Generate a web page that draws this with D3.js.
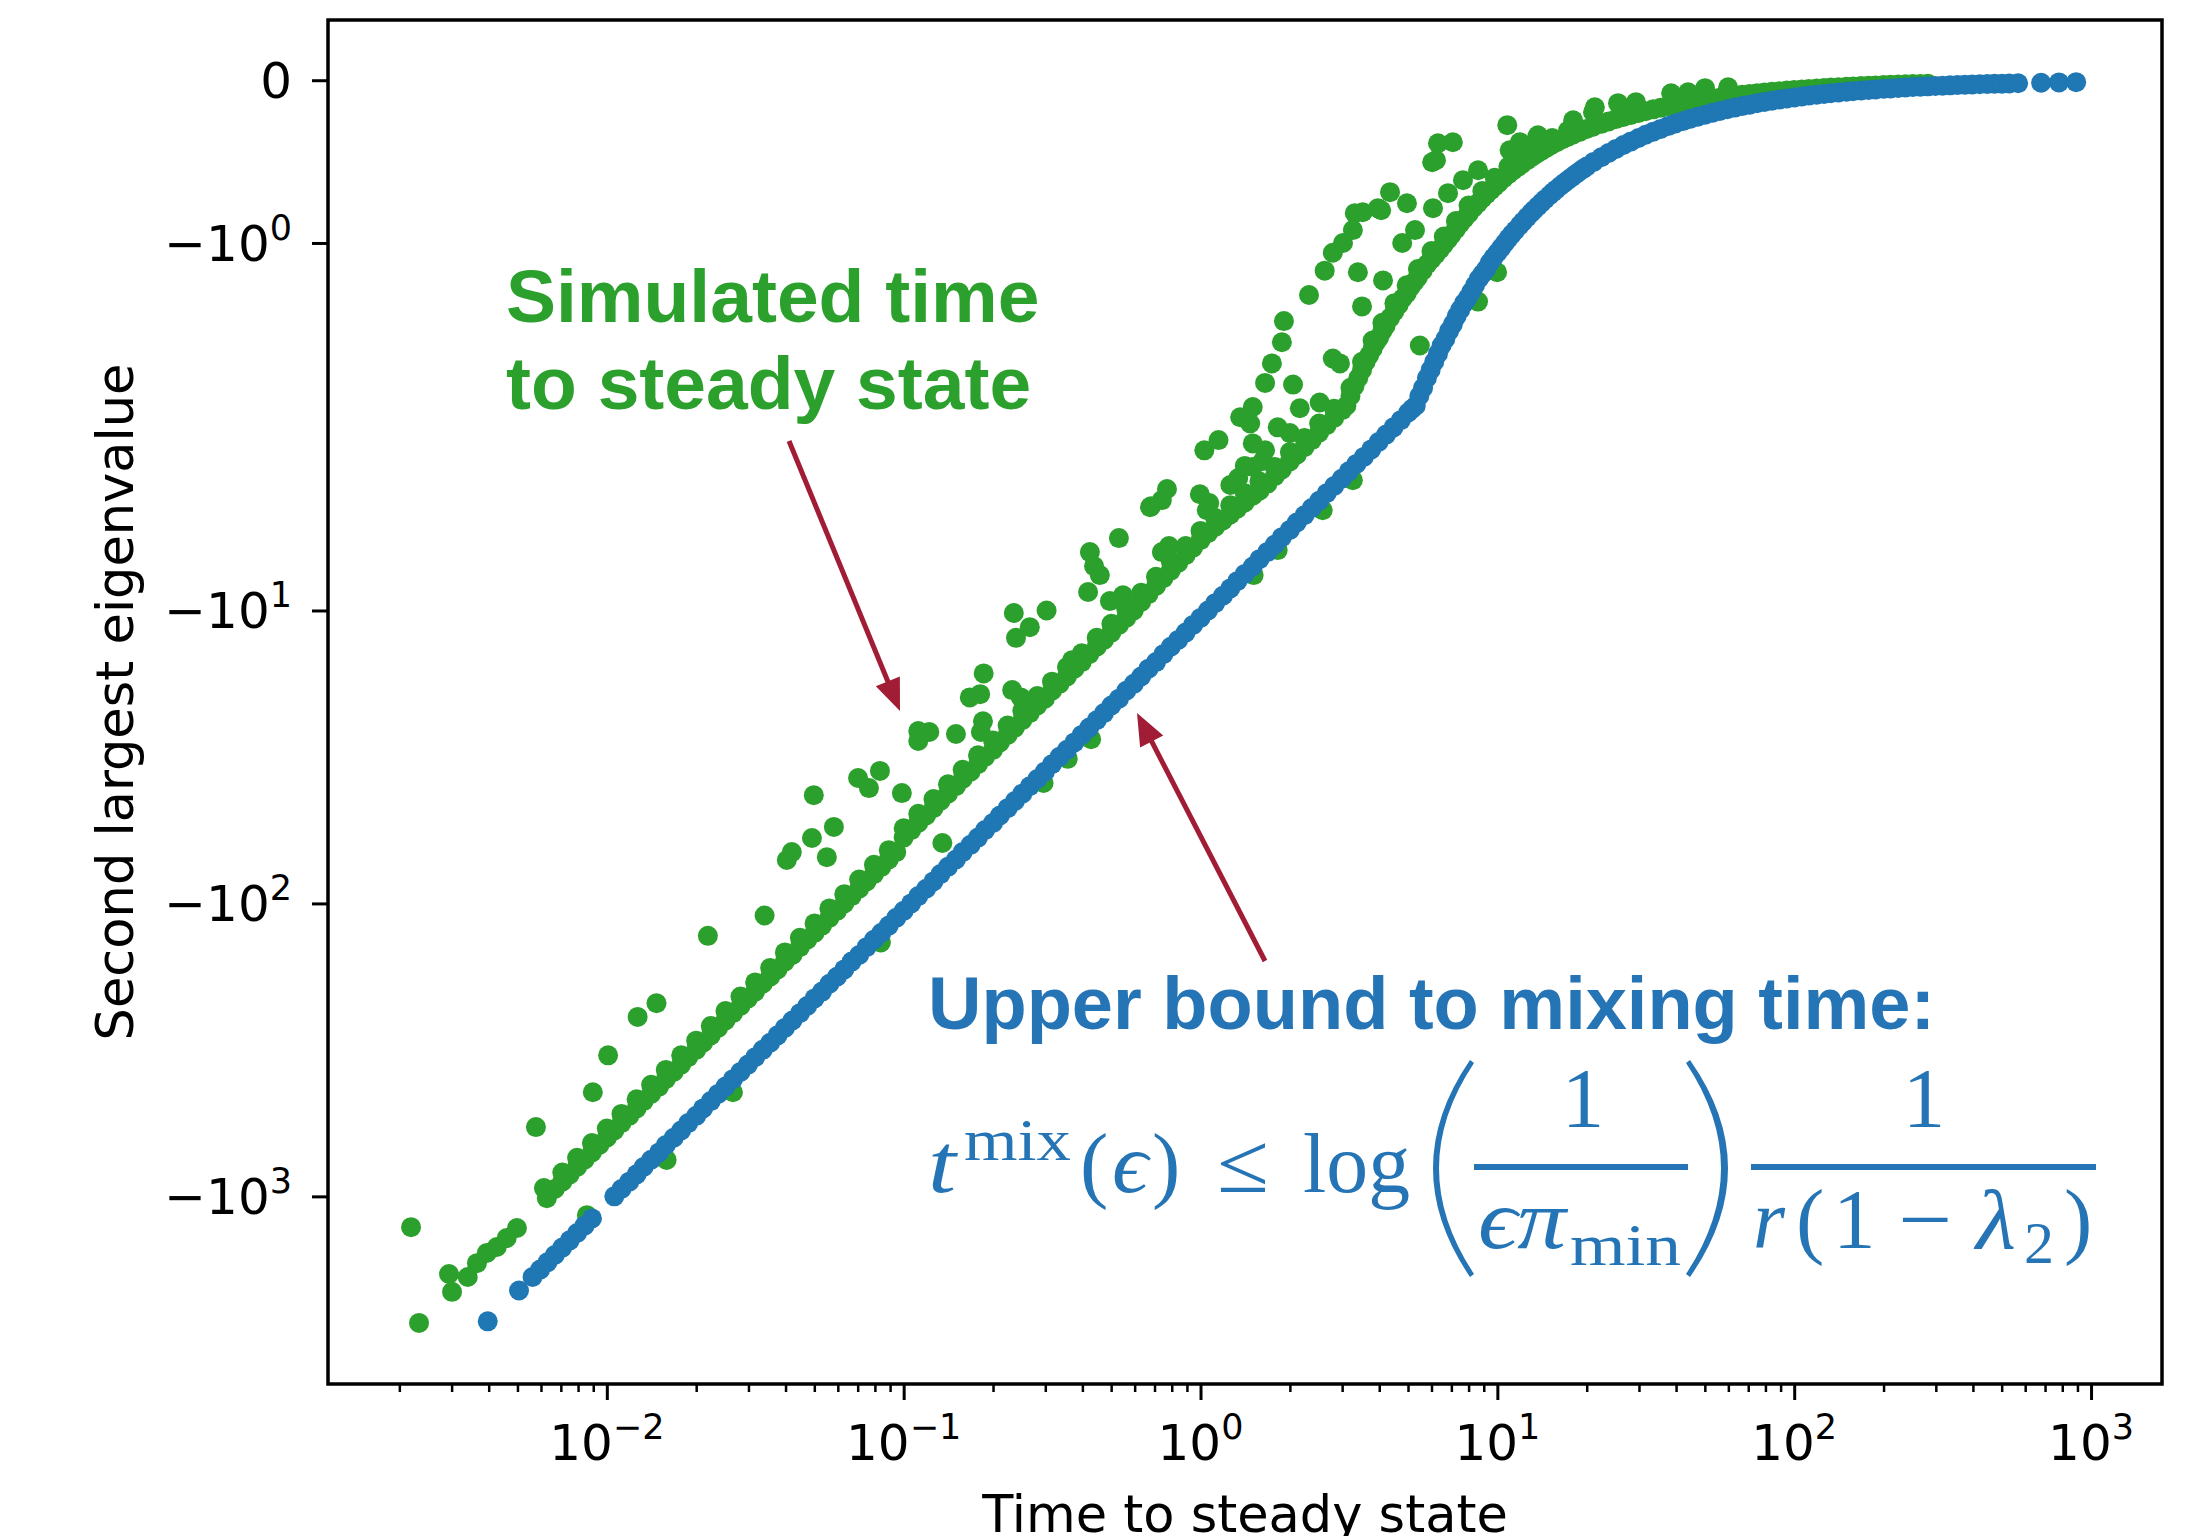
<!DOCTYPE html>
<html>
<head>
<meta charset="utf-8">
<script src="https://cdn.jsdelivr.net/npm/d3@7"></script>
<style>
  html, body { margin: 0; padding: 0; background: #fff; }
  svg { display: block; }
</style>
</head>
<body>
<div id="chart"></div>
<script>
// axis ticks
const xMajorTicks = [1e-2, 1e-1, 1e0, 1e1, 1e2, 1e3]
const xMinorTicks = [
    0.002, 0.003, 0.004, 0.005, 0.006, 0.007, 0.008, 0.009,
    0.02, 0.03, 0.04, 0.05, 0.06, 0.07, 0.08, 0.09,
    0.2, 0.3, 0.4, 0.5, 0.6, 0.7, 0.8, 0.9,
    2, 3, 4, 5, 6, 7, 8, 9,
    20, 30, 40, 50, 60, 70, 80, 90,
    200, 300, 400, 500, 600, 700, 800, 900
]
const yMajorTicks = [0, -1, -10, -100, -1000]

// upper bound (blue): [time to steady state, second largest eigenvalue]
const upperBound = [
    [0.00397, -2670], [0.00506, -2095],
    [0.00562, -1884], [0.00596, -1778], [0.00631, -1679], [0.00668, -1585], [0.00708, -1496], [0.0075, -1413], [0.00794, -1334], [0.00841, -1259], [0.00891, -1189],
    [0.0106, -1000], [0.0112, -944], [0.0119, -891], [0.0126, -841], [0.0133, -794], [0.0141, -750], [0.015, -708], [0.0158, -668], [0.0168, -631], [0.0178, -596],
    [0.0188, -562], [0.02, -531], [0.0211, -501], [0.0224, -473], [0.0237, -447], [0.0251, -422], [0.0266, -398], [0.0282, -376], [0.0299, -355], [0.0316, -335],
    [0.0335, -316], [0.0355, -299], [0.0376, -282], [0.0398, -266], [0.0422, -251], [0.0447, -237], [0.0473, -224], [0.0501, -211], [0.0531, -200], [0.0562, -188],
    [0.0596, -178], [0.0631, -168], [0.0668, -158], [0.0708, -150], [0.075, -141], [0.0794, -133], [0.0841, -126], [0.0891, -119], [0.0944, -112],
    [0.1, -106], [0.106, -100], [0.112, -94.4], [0.119, -89.1], [0.126, -84.1], [0.133, -79.4], [0.141, -75], [0.15, -70.8], [0.158, -66.8], [0.168, -63.1],
    [0.178, -59.6], [0.188, -56.2], [0.2, -53.1], [0.211, -50.1], [0.224, -47.3], [0.237, -44.7], [0.251, -42.2], [0.266, -39.8], [0.282, -37.6], [0.299, -35.5],
    [0.316, -33.5], [0.335, -31.6], [0.355, -29.9], [0.376, -28.2], [0.398, -26.6], [0.422, -25.1], [0.447, -23.7], [0.473, -22.4], [0.501, -21.1], [0.531, -20],
    [0.562, -18.8], [0.596, -17.8], [0.631, -16.8], [0.668, -15.8], [0.708, -15], [0.75, -14.1], [0.794, -13.3], [0.841, -12.6], [0.891, -11.9], [0.944, -11.2],
    [1, -10.6], [1.06, -10], [1.12, -9.44], [1.19, -8.91], [1.26, -8.41], [1.33, -7.94], [1.41, -7.5], [1.5, -7.08], [1.58, -6.68], [1.68, -6.31],
    [1.78, -5.96], [1.88, -5.62], [2, -5.31], [2.11, -5.01], [2.24, -4.73], [2.37, -4.47], [2.51, -4.22], [2.66, -3.98], [2.82, -3.76], [2.99, -3.55],
    [3.16, -3.35], [3.35, -3.16], [3.55, -2.99], [3.76, -2.82], [3.98, -2.66], [4.22, -2.51], [4.47, -2.37], [4.73, -2.24], [5.01, -2.11],
    [5.16, -2.05], [5.31, -2], [5.46, -1.94], [5.62, -1.89], [5.79, -1.83], [5.96, -1.78], [6.13, -1.73], [6.31, -1.68], [6.49, -1.63], [6.68, -1.59],
    [6.88, -1.54], [7.08, -1.5], [7.29, -1.45], [7.5, -1.41], [7.72, -1.37], [7.94, -1.34], [8.17, -1.3], [8.41, -1.26], [8.66, -1.22], [8.91, -1.19],
    [9.17, -1.16], [9.44, -1.12], [9.71, -1.09], [10, -1.06], [10.3, -1.03], [10.6, -1], [10.9, -0.972], [11.2, -0.946], [11.5, -0.922], [11.9, -0.891],
    [12.2, -0.869], [12.6, -0.841], [13, -0.815], [13.3, -0.797], [13.7, -0.774], [14.1, -0.752], [14.5, -0.731], [15, -0.707], [15.4, -0.688], [15.8, -0.671],
    [16.3, -0.65], [16.8, -0.631], [17.3, -0.613], [17.8, -0.596], [18.3, -0.579], [18.8, -0.564], [19.4, -0.546], [20, -0.53],
    [21.1, -0.502], [22.4, -0.473], [23.7, -0.447], [25.1, -0.422], [26.6, -0.398], [28.2, -0.376], [29.9, -0.355], [31.6, -0.335], [33.5, -0.316], [35.5, -0.299],
    [37.6, -0.282], [39.8, -0.266], [42.2, -0.251], [44.7, -0.237], [47.3, -0.224], [50.1, -0.212], [53.1, -0.2], [56.2, -0.189], [59.6, -0.178], [63.1, -0.168],
    [66.8, -0.159], [70.8, -0.15], [75, -0.141], [79.4, -0.134], [84.1, -0.126], [89.1, -0.119], [94.4, -0.112], [100, -0.106], [106, -0.1], [112, -0.0946],
    [119, -0.0891], [126, -0.0841], [133, -0.0797], [141, -0.0752], [150, -0.0707], [158, -0.0671], [168, -0.0631], [178, -0.0596], [188, -0.0564], [200, -0.053],
    [211, -0.0502], [224, -0.0473], [237, -0.0447], [251, -0.0422], [266, -0.0398], [282, -0.0376], [299, -0.0355], [316, -0.0335], [335, -0.0316], [355, -0.0299],
    [376, -0.0282], [398, -0.0266], [422, -0.0251], [447, -0.0237], [473, -0.0224], [501, -0.0212], [530, -0.02], [568, -0.0187],
    [679, -0.0156], [780, -0.0136], [891, -0.0119]
]

// simulated (green), the dense band
const simulatedBand = [
    [0.00668, -944], [0.00708, -891], [0.0075, -841], [0.00794, -794], [0.00841, -750], [0.00891, -708], [0.00944, -668],
    [0.01, -631], [0.0106, -596], [0.0112, -562], [0.0119, -531], [0.0126, -501], [0.0133, -473], [0.0141, -447], [0.015, -422], [0.0158, -398], [0.0168, -376],
    [0.0178, -355], [0.0188, -335], [0.02, -316], [0.0211, -299], [0.0224, -282], [0.0237, -266], [0.0251, -251], [0.0266, -237], [0.0282, -224], [0.0299, -211],
    [0.0316, -200], [0.0335, -188], [0.0355, -178], [0.0376, -168], [0.0398, -158], [0.0422, -150], [0.0447, -141], [0.0473, -133], [0.0501, -126], [0.0531, -119],
    [0.0562, -112], [0.0596, -106], [0.0631, -100], [0.0668, -94.4], [0.0708, -89.1], [0.075, -84.1], [0.0794, -79.4], [0.0841, -75], [0.0891, -70.8], [0.0944, -66.8],
    [0.1, -59.6], [0.106, -56.2], [0.112, -53.1], [0.119, -50.1], [0.126, -47.3], [0.133, -44.7], [0.141, -42.2], [0.15, -39.8], [0.158, -37.6], [0.168, -35.5],
    [0.178, -33.5], [0.188, -31.6], [0.2, -29.9], [0.211, -28.2], [0.224, -26.6], [0.237, -25.1], [0.251, -23.7], [0.266, -22.4], [0.282, -21.1], [0.299, -20],
    [0.316, -18.8], [0.335, -17.8], [0.355, -16.8], [0.376, -15.8], [0.398, -15], [0.422, -14.1], [0.447, -13.3], [0.473, -12.6], [0.501, -11.9], [0.531, -11.2],
    [0.562, -10.6], [0.596, -10], [0.631, -9.35], [0.668, -8.79], [0.708, -8.25], [0.75, -7.76], [0.794, -7.31], [0.841, -6.88], [0.891, -6.48], [0.944, -6.1],
    [1, -5.75], [1.06, -5.45], [1.12, -5.19], [1.19, -4.93], [1.26, -4.7], [1.33, -4.49], [1.41, -4.28], [1.5, -4.06], [1.58, -3.9], [1.68, -3.69],
    [1.78, -3.48], [1.88, -3.3], [2, -3.1], [2.11, -2.94], [2.24, -2.77], [2.37, -2.62], [2.51, -2.47], [2.66, -2.33], [2.82, -2.2],
    [3, -2.07], [3.1, -2], [3.2, -1.94], [3.3, -1.88], [3.4, -1.83], [3.5, -1.78], [3.6, -1.73], [3.7, -1.69], [3.8, -1.65], [3.9, -1.61],
    [4, -1.58], [4.1, -1.54], [4.2, -1.51], [4.35, -1.46], [4.5, -1.42], [4.65, -1.38], [4.8, -1.34], [4.95, -1.31], [5.1, -1.27], [5.25, -1.24],
    [5.4, -1.21], [5.6, -1.17], [5.8, -1.13], [6, -1.1], [6.2, -1.07], [6.4, -1.04], [6.6, -1.01], [6.8, -0.98], [7, -0.95], [7.25, -0.915],
    [7.5, -0.88], [7.75, -0.85], [8, -0.82], [8.3, -0.785], [8.6, -0.755], [8.9, -0.727], [9.2, -0.7], [9.5, -0.675], [9.8, -0.652], [10.1, -0.631],
    [10.5, -0.602], [10.9, -0.578], [11.3, -0.555], [11.7, -0.534], [12.1, -0.514], [12.6, -0.492], [13.1, -0.47], [13.6, -0.45], [14.1, -0.433], [14.7, -0.413],
    [15.3, -0.395], [15.9, -0.379], [16.6, -0.362], [17.3, -0.347], [18, -0.333], [19, -0.316], [20, -0.3], [21, -0.286], [22.4, -0.268], [23.7, -0.253],
    [25.1, -0.239], [26.6, -0.226], [28.2, -0.213], [29.9, -0.201], [31.6, -0.19], [33.5, -0.179], [35.5, -0.169], [37.6, -0.16], [39.8, -0.151], [42.2, -0.142],
    [44.7, -0.134], [47.3, -0.127], [50.1, -0.12], [53.1, -0.113], [56.2, -0.107], [59.6, -0.101], [63.1, -0.0951], [66.8, -0.0898], [70.8, -0.0847], [75, -0.08],
    [79.4, -0.0756], [84.1, -0.0713], [89.1, -0.0673], [94.4, -0.0636], [100, -0.06], [106, -0.0566], [112, -0.0536], [119, -0.0504], [126, -0.0476], [133, -0.0451],
    [141, -0.0426], [150, -0.04], [158, -0.038], [168, -0.0357], [178, -0.0337], [188, -0.0319], [200, -0.03], [211, -0.0284], [224, -0.0268], [237, -0.0253],
    [251, -0.0239], [266, -0.0226], [282, -0.0213]
]

// simulated (green), points riding just above the band, which make it look thick
const simulatedBandUpper = [
    [0.00708, -829], [0.00794, -738], [0.00891, -658], [0.01, -587], [0.0112, -523], [0.0126, -466], [0.0141, -416], [0.0158, -370],
    [0.0178, -330], [0.02, -294], [0.0224, -262], [0.0251, -233], [0.0282, -208], [0.0316, -186], [0.0355, -166], [0.0398, -147],
    [0.0447, -131], [0.0501, -117], [0.0562, -104], [0.0631, -93], [0.0708, -82.9], [0.0794, -73.8], [0.0891, -65.8],
    [0.1, -55.4], [0.112, -49.4], [0.126, -44], [0.141, -39.2], [0.158, -35], [0.178, -31.2], [0.2, -27.8], [0.224, -24.7],
    [0.251, -22], [0.282, -19.6], [0.316, -17.5], [0.355, -15.6], [0.398, -14], [0.447, -12.4], [0.501, -11.1], [0.562, -9.86],
    [0.631, -8.7], [0.708, -7.67], [0.794, -6.8], [0.891, -6.03], [1, -5.35], [1.12, -4.83], [1.26, -4.37], [1.41, -3.98],
    [1.58, -3.63], [1.78, -3.24], [2, -2.88], [2.24, -2.58], [2.51, -2.3], [2.82, -2.05],
    [3.2, -1.89], [3.5, -1.73], [3.8, -1.6], [4.1, -1.49], [4.5, -1.37], [4.95, -1.26], [5.4, -1.16], [6, -1.05],
    [6.6, -0.96], [7.25, -0.865], [8, -0.77], [8.9, -0.68], [9.8, -0.6], [10.9, -0.53], [12.1, -0.47], [13.6, -0.41],
    [15.3, -0.355], [17.3, -0.31]
]

// simulated (green), the points that scatter off the band
const simulatedScatter = [
    [0.00219, -1274], [0.00233, -2704], [0.00294, -1841], [0.00301, -2118], [0.0034, -1884], [0.00365, -1690], [0.00394, -1560], [0.00426, -1489],
    [0.0046, -1387], [0.00498, -1282], [0.00577, -580], [0.00614, -937], [0.00628, -1014], [0.00897, -441], [0.0101, -330], [0.0127, -244],
    [0.0147, -219], [0.00857, -1159], [0.0159, -751], [0.0266, -441],
    [0.0219, -129], [0.034, -110], [0.0404, -71.1], [0.042, -66.8], [0.0498, -42.7], [0.0491, -59.8], [0.0582, -54.8], [0.0551, -69.5],
    [0.0702, -37.3], [0.0764, -40.4], [0.0832, -35.3], [0.0986, -42], [0.112, -25.8], [0.122, -26], [0.112, -27.9], [0.15, -26.4],
    [0.135, -62.2], [0.0838, -136], [0.186, -16.4], [0.167, -19.8], [0.181, -19.3], [0.185, -23.9], [0.182, -26], [0.232, -18.7],
    [0.248, -19.8], [0.235, -10.2], [0.266, -11.4], [0.303, -10], [0.239, -12.4], [0.369, -14.8], [0.424, -6.32], [0.438, -7.06],
    [0.458, -7.57], [0.418, -8.65], [0.531, -5.66], [0.495, -9.29], [0.548, -8.87], [0.681, -4.41], [0.771, -3.85], [0.741, -6.32],
    [0.783, -6.03], [0.995, -4.01], [1.07, -4.3], [1.26, -3.73], [1.34, -3.53], [1.03, -2.84], [1.41, -3.21], [1.62, -3.09],
    [0.428, -27.5], [0.357, -32.1], [0.296, -38.8], [1.82, -6.22], [1.51, -7.57], [2.58, -4.55], [3.26, -3.59],
    [0.676, -4.44], [0.741, -4.2], [1.05, -4.55], [1.15, -2.62], [1.36, -2.19], [1.5, -2.02], [1.47, -2.3], [1.5, -2.69],
    [1.65, -2.84], [1.82, -2.37], [2, -2.48], [1.5, -3.24], [2.05, -1.87], [2.16, -2.04], [2.52, -1.98], [1.65, -1.86],
    [1.74, -1.74], [1.88, -1.61], [1.91, -1.48], [2.32, -1.32], [2.62, -1.17], [2.79, -1.06], [3.02, -1], [3.26, -0.921],
    [3.52, -0.811], [3.96, -0.786], [4.35, -0.688], [3.39, -1.18], [3.5, -1.39], [2.79, -1.71], [2.95, -1.74], [4.12, -1.23],
    [4.78, -1], [5.28, -0.921], [4.96, -0.756], [6.03, -0.504], [6.31, -0.387], [7.08, -0.381], [6.07, -0.786], [6.82, -0.694],
    [7.66, -0.614], [8.61, -0.553], [10.8, -0.276], [11, -0.43], [11.9, -0.381], [13.7, -0.338], [18, -0.246], [21, -0.197],
    [5.48, -1.63], [8.61, -1.36], [9.98, -1.18],
    [3.31, -0.817], [4.06, -0.799], [6.21, -0.491], [13.6, -0.35], [21.3, -0.166], [25.5, -0.141], [29.3, -0.135], [38.5, -0.08],
    [43.9, -0.074], [50.1, -0.049], [59.9, -0.043]
]

const blueColor = '#1f77b4'
const greenColor = '#2ca02c'
const textBlue = '#2574b5'
const arrowColor = '#a11c35'

const width = 2208
const height = 1536

// room around the axes box for the tick labels and axis titles
const margin = { top: 20, right: 46, bottom: 152, left: 328 }
const innerWidth = width - margin.left - margin.right
const innerHeight = height - margin.top - margin.bottom

// symmetric log like matplotlib's symlog (linthresh 2, linscale 1)
const linthresh = 2
const linscaleAdj = 1 / (1 - 1 / 10)
const symlog = v => {
    const a = Math.abs(v)
    const s = Math.sign(v)
    if (a <= linthresh) return s * a * linscaleAdj / linthresh
    return s * (linscaleAdj + Math.log10(a / linthresh))
}

const xScale = d3.scaleLog()
    .domain([1.15e-3, 1734])
    .range([0, innerWidth])

const yLin = d3.scaleLinear()
    .domain([symlog(0.37), symlog(-4370)])
    .range([0, innerHeight])

const yScale = v => yLin(symlog(v))

const svg = d3.select('#chart')
    .append('svg')
        .attr('width', width)
        .attr('height', height)

const g = svg.append('g')
    .attr('transform', `translate(${margin.left}, ${margin.top})`)

// green first, blue sits on top of it
g.append('g').selectAll('circle')
    .data(simulatedBand.concat(simulatedBandUpper, simulatedScatter))
    .enter()
    .append('circle')
        .attr('cx', d => xScale(d[0]))
        .attr('cy', d => yScale(d[1]))
        .attr('r', 10)
        .attr('fill', greenColor)

g.append('g').selectAll('circle')
    .data(upperBound)
    .enter()
    .append('circle')
        .attr('cx', d => xScale(d[0]))
        .attr('cy', d => yScale(d[1]))
        .attr('r', 10)
        .attr('fill', blueColor)

// axes
const sup = n => (n < 0 ? '\u2212' : '') + Math.abs(n)

const xMinorG = g.append('g')
    .attr('transform', `translate(0, ${innerHeight})`)
    .call(d3.axisBottom(xScale).tickValues(xMinorTicks).tickSize(8).tickFormat(''))
xMinorG.select('.domain').remove()
xMinorG.selectAll('line').attr('stroke', '#000').attr('stroke-width', 2.5)

const xMajorG = g.append('g')
    .attr('transform', `translate(0, ${innerHeight})`)
    .call(d3.axisBottom(xScale).tickValues(xMajorTicks).tickSize(16).tickFormat(''))
xMajorG.select('.domain').remove()
xMajorG.selectAll('line').attr('stroke', '#000').attr('stroke-width', 3)

const yMajorG = g.append('g')
    .call(d3.axisLeft(yLin).tickValues(yMajorTicks.map(symlog)).tickSize(16).tickFormat(''))
yMajorG.select('.domain').remove()
yMajorG.selectAll('line').attr('stroke', '#000').attr('stroke-width', 3)

const xLabels = g.append('g').selectAll('text')
    .data(xMajorTicks)
    .enter()
    .append('text')
        .attr('x', d => xScale(d))
        .attr('y', innerHeight + 76)
        .attr('text-anchor', 'middle')
        .style('font-family', '"DejaVu Sans", sans-serif')
        .style('font-size', '50px')
xLabels.append('tspan').text('10')
xLabels.append('tspan')
    .attr('dy', -21)
    .style('font-size', '35px')
    .text(d => sup(Math.round(Math.log10(d))))

const yLabels = g.append('g').selectAll('text')
    .data(yMajorTicks)
    .enter()
    .append('text')
        .attr('x', -36)
        .attr('y', d => yScale(d) + 18)
        .attr('text-anchor', 'end')
        .style('font-family', '"DejaVu Sans", sans-serif')
        .style('font-size', '50px')
yLabels.append('tspan').text(d => d === 0 ? '0' : '\u221210')
yLabels.filter(d => d !== 0).append('tspan')
    .attr('dy', -21)
    .style('font-size', '35px')
    .text(d => sup(Math.round(Math.log10(-d))))

// frame
g.append('rect')
    .attr('width', innerWidth)
    .attr('height', innerHeight)
    .attr('fill', 'none')
    .attr('stroke', '#000')
    .attr('stroke-width', 3.5)

// axis titles
svg.append('text')
    .attr('x', margin.left + 917)
    .attr('y', 1532)
    .attr('text-anchor', 'middle')
    .style('font-family', '"DejaVu Sans", sans-serif')
    .style('font-size', '51px')
    .text('Time to steady state')

svg.append('text')
    .attr('transform', `translate(133, ${margin.top + innerHeight / 2}) rotate(-90)`)
    .attr('text-anchor', 'middle')
    .style('font-family', '"DejaVu Sans", sans-serif')
    .style('font-size', '51px')
    .text('Second largest eigenvalue')

// annotations (page coordinates)
const boldText = (txt, x, y, color) => svg.append('text')
    .attr('x', x)
    .attr('y', y)
    .attr('fill', color)
    .style('font-family', '"Liberation Sans", Arial, sans-serif')
    .style('font-weight', 'bold')
    .style('font-size', '75px')
    .text(txt)

boldText('Simulated time', 506, 322, greenColor)
boldText('to steady state', 506, 409, greenColor)
boldText('Upper bound to mixing time:', 928, 1029, textBlue).style('font-size', '74px')

const arrow = (from, to) => {
    const dx = to[0] - from[0]
    const dy = to[1] - from[1]
    const len = Math.hypot(dx, dy)
    const ux = dx / len, uy = dy / len
    const headLen = 32, headHalf = 13
    const bx = to[0] - ux * headLen, by = to[1] - uy * headLen
    svg.append('line')
        .attr('x1', from[0]).attr('y1', from[1])
        .attr('x2', bx + ux * 2).attr('y2', by + uy * 2)
        .attr('stroke', arrowColor)
        .attr('stroke-width', 5)
    svg.append('path')
        .attr('d', `M${to[0]},${to[1]} L${bx - uy * headHalf},${by + ux * headHalf} L${bx + uy * headHalf},${by - ux * headHalf} Z`)
        .attr('fill', arrowColor)
}
arrow([789, 441], [900, 711])
arrow([1265, 961], [1137, 713])

// the bound formula
const mathFont = '"Liberation Serif", "DejaVu Serif", serif'
const formula = [
    { t: 't', x: 928, y: 1192, size: 85, italic: true, len: 28 },
    { t: 'mix', x: 964, y: 1160, size: 60, len: 107 },
    { t: '(', x: 1080, y: 1192, size: 85 },
    { t: '\u03f5', x: 1112, y: 1192, size: 85, italic: true, len: 36 },
    { t: ')', x: 1152, y: 1192, size: 85 },
    { t: '\u2264', x: 1217, y: 1192, size: 85, len: 52 },
    { t: 'log', x: 1303, y: 1192, size: 85, len: 107 },
    { t: '1', x: 1583, y: 1127, size: 85, anchor: 'middle' },
    { t: '\u03f5\u03c0', x: 1478, y: 1248, size: 85, italic: true, len: 88 },
    { t: 'min', x: 1570, y: 1265, size: 60, len: 111 },
    { t: '1', x: 1924, y: 1127, size: 85, anchor: 'middle' },
    { t: 'r', x: 1753, y: 1248, size: 85, italic: true, len: 32 },
    { t: '(', x: 1796, y: 1248, size: 85 },
    { t: '1', x: 1833, y: 1248, size: 85 },
    { t: '\u2212', x: 1898, y: 1248, size: 85, len: 54 },
    { t: '\u03bb', x: 1976, y: 1248, size: 85, italic: true, len: 40 },
    { t: '2', x: 2024, y: 1263, size: 60 },
    { t: ')', x: 2064, y: 1248, size: 85 }
]

formula.forEach(p => {
    const el = svg.append('text')
        .attr('x', p.x)
        .attr('y', p.y)
        .attr('fill', textBlue)
        .attr('text-anchor', p.anchor || 'start')
        .style('font-family', mathFont)
        .style('font-size', p.size + 'px')
        .style('font-style', p.italic ? 'italic' : 'normal')
        .text(p.t)
    if (p.len) el.attr('textLength', p.len).attr('lengthAdjust', 'spacingAndGlyphs')
})

// fraction bars
svg.append('rect').attr('x', 1474).attr('y', 1164).attr('width', 214).attr('height', 6).attr('fill', textBlue)
svg.append('rect').attr('x', 1751).attr('y', 1164).attr('width', 345).attr('height', 6).attr('fill', textBlue)

// tall brackets round the first fraction
svg.append('path')
    .attr('d', 'M1470,1060 Q1396,1168 1470,1277 L1474,1274 Q1404,1168 1474,1063 Z')
    .attr('fill', textBlue)
svg.append('path')
    .attr('d', 'M1690,1060 Q1766,1168 1690,1277 L1686,1274 Q1756,1168 1686,1063 Z')
    .attr('fill', textBlue)
</script>
</body>
</html>
